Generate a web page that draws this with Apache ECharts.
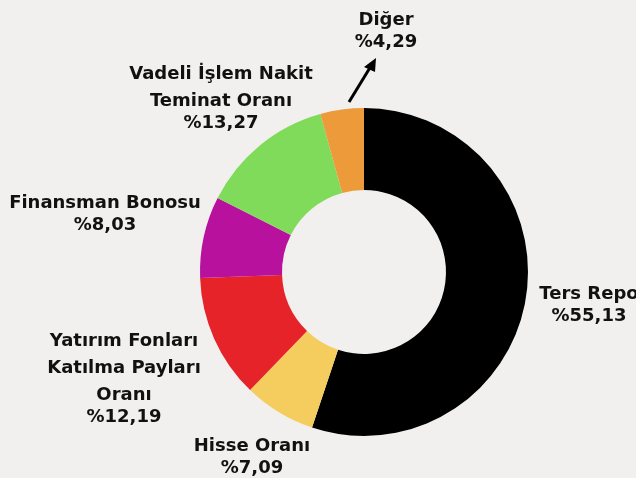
<!DOCTYPE html>
<html>
<head>
<meta charset="utf-8">
<script src="https://cdn.jsdelivr.net/npm/echarts@6/dist/echarts.min.js"></script>
<style>
  html, body { margin: 0; padding: 0; background: #f1f0ee; }
  #m1 { width: 636px; height: 478px; }
</style>
</head>
<body>
<div id="m1"></div>
<script>
var names = ['Ters Repo', 'Hisse Oranı', 'Yatırım Fonları\nKatılma Payları\nOranı', 'Finansman Bonosu', 'Vadeli İşlem Nakit\nTeminat Oranı', 'Diğer'];
var values = [55.13, 7.09, 12.19, 8.03, 13.27, 4.29];
var colors = ['#000000', '#f5cd5e', '#e52329', '#b8119e', '#80db5a', '#ed9b3a'];

// label block centres, same order as the data
var labelPos = [[589, 303], [252, 455], [124, 377], [105, 212], [221, 96], [386, 29]];

var myChart = echarts.init(document.getElementById('m1'));
var option = {
    backgroundColor: '#f1f0ee',
    animation: false,
    graphic: [
        {
            type: 'line',
            shape: {x1: 349, y1: 102, x2: 371, y2: 66},
            style: {stroke: '#000', lineWidth: 3}
        },
        {
            type: 'polygon',
            shape: {points: [[376, 58], [364, 67], [375, 72]]},
            style: {fill: '#000'}
        }
    ],
    series: [
        {
            type: 'pie',
            center: [364, 272],
            radius: [82, 164],
            startAngle: 90,
            clockwise: true,
            silent: true,
            itemStyle: {borderWidth: 0},
            label: {
                show: true,
                overflow: 'none',
                formatter: function (p) {
                    var lines = p.name.split('\n').map(function (l) { return '{n|' + l + '}'; });
                    return lines.join('\n') + '\n{v|%' + p.value.toFixed(2).replace('.', ',') + '}';
                },
                rich: {
                    n: {fontFamily: 'DejaVu Sans', fontWeight: 'bold', fontSize: 18, color: '#111', lineHeight: 27, align: 'center'},
                    v: {fontFamily: 'DejaVu Sans', fontWeight: 'bold', fontSize: 18, color: '#111', lineHeight: 17, align: 'center'}
                }
            },
            labelLine: {show: false},
            labelLayout: function (params) {
                var pos = labelPos[params.dataIndex];
                return {x: pos[0], y: pos[1], align: 'center', verticalAlign: 'middle'};
            },
            data: names.map(function (n, i) {
                return {name: n, value: values[i], itemStyle: {color: colors[i]}};
            })
        }
    ]
};
myChart.setOption(option);
</script>
</body>
</html>
